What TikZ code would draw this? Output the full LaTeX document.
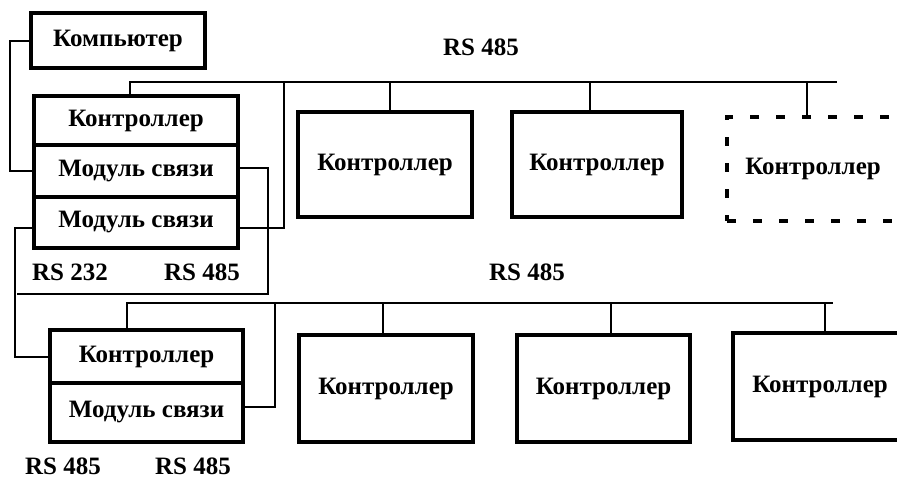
\documentclass[tikz,border=0pt]{standalone}
\usepackage{fontspec}
\setmainfont{Liberation Serif}
\begin{document}
\begin{tikzpicture}[x=1pt,y=-1pt,
  box/.style={draw, line width=3.5pt, inner sep=0pt, font=\fontsize{25}{28}\selectfont\bfseries},
  dbox/.style={draw, line width=3.5pt, dash pattern=on 9pt off 17pt, inner sep=0pt, font=\fontsize{25}{28}\selectfont\bfseries},
  wire/.style={draw, line width=2pt},
  lbl/.style={inner sep=0pt, font=\fontsize{25}{28}\selectfont\bfseries}]
\useasboundingbox (0,0) rectangle (897,479);
\clip (0,0) rectangle (897,479);
% left stacks
\node[box, minimum width=174pt, minimum height=55pt] (comp) at (118,40.5) {Компьютер};
\node[box, minimum width=204pt, minimum height=49pt] (tc) at (136,120.5) {Контроллер};
\node[box, minimum width=204pt, minimum height=52pt] (tm1) at (136,171) {Модуль связи};
\node[box, minimum width=204pt, minimum height=51pt] (tm2) at (136,222.5) {Модуль связи};
\node[box, minimum width=193pt, minimum height=53pt] (bc) at (146.5,356.5) {Контроллер};
\node[box, minimum width=193pt, minimum height=59pt] (bm) at (146.5,412.5) {Модуль связи};
% top row controllers
\node[box, minimum width=174pt, minimum height=105pt] (c1) at (385,164.5) {Контроллер};
\node[box, minimum width=170pt, minimum height=105pt] (c2) at (597,164.5) {Контроллер};
\node[dbox, minimum width=172pt, minimum height=104pt] (c3) at (813,169) {Контроллер};
% bottom row controllers
\node[box, minimum width=174pt, minimum height=107pt] (d1) at (386,388.5) {Контроллер};
\node[box, minimum width=173pt, minimum height=107pt] (d2) at (603.5,388.5) {Контроллер};
\node[box, minimum width=174pt, minimum height=107pt] (d3) at (820,386.5) {Контроллер};
% labels
\node[lbl] (l1) at (481,47) {RS 485};
\node[lbl] (l2) at (527,272) {RS 485};
\node[lbl] (l3) at (70,272) {RS 232};
\node[lbl] (l4) at (202,272) {RS 485};
\node[lbl, anchor=base] (l5) at (63,474) {RS 485};
\node[lbl, anchor=base] (l6) at (193,474) {RS 485};
% bus end points
\coordinate (tbend) at (837,82);
\coordinate (bbend) at (833,303);
\coordinate (j1) at (17,294);
% RS232 from computer to first module
\draw[wire] (comp.west) -- ++(-19,0) |- (tm1.west);
% second module to lower controller
\draw[wire] ([yshift=-5pt]tm2.west) -- ++(-17,0) |- (bc.west);
% first module RS485 loop
\draw[wire] ([yshift=3pt]tm1.east) -- ++(28,0) |- (j1);
% top bus
\draw[wire] ([xshift=-6pt]tc.north) |- (tbend);
\draw[wire] ([yshift=-5pt]tm2.east) -- ++(44,0) coordinate (m2r) -- (m2r |- tbend);
\draw[wire] ([xshift=5pt]c1.north) -- ([xshift=5pt]c1.north |- tbend);
\draw[wire] ([xshift=-7pt]c2.north) -- ([xshift=-7pt]c2.north |- tbend);
\draw[wire] ([xshift=-6pt]c3.north) -- ([xshift=-6pt]c3.north |- tbend);
% bottom bus
\draw[wire] ([xshift=-19.5pt]bc.north) |- (bbend);
\draw[wire] ([yshift=5.5pt]bm.east) -- ++(30,0) coordinate (bmr) -- (bmr |- bbend);
\draw[wire] ([xshift=-3pt]d1.north) -- ([xshift=-3pt]d1.north |- bbend);
\draw[wire] ([xshift=7.5pt]d2.north) -- ([xshift=7.5pt]d2.north |- bbend);
\draw[wire] ([xshift=5pt]d3.north) -- ([xshift=5pt]d3.north |- bbend);
\end{tikzpicture}
\end{document}
